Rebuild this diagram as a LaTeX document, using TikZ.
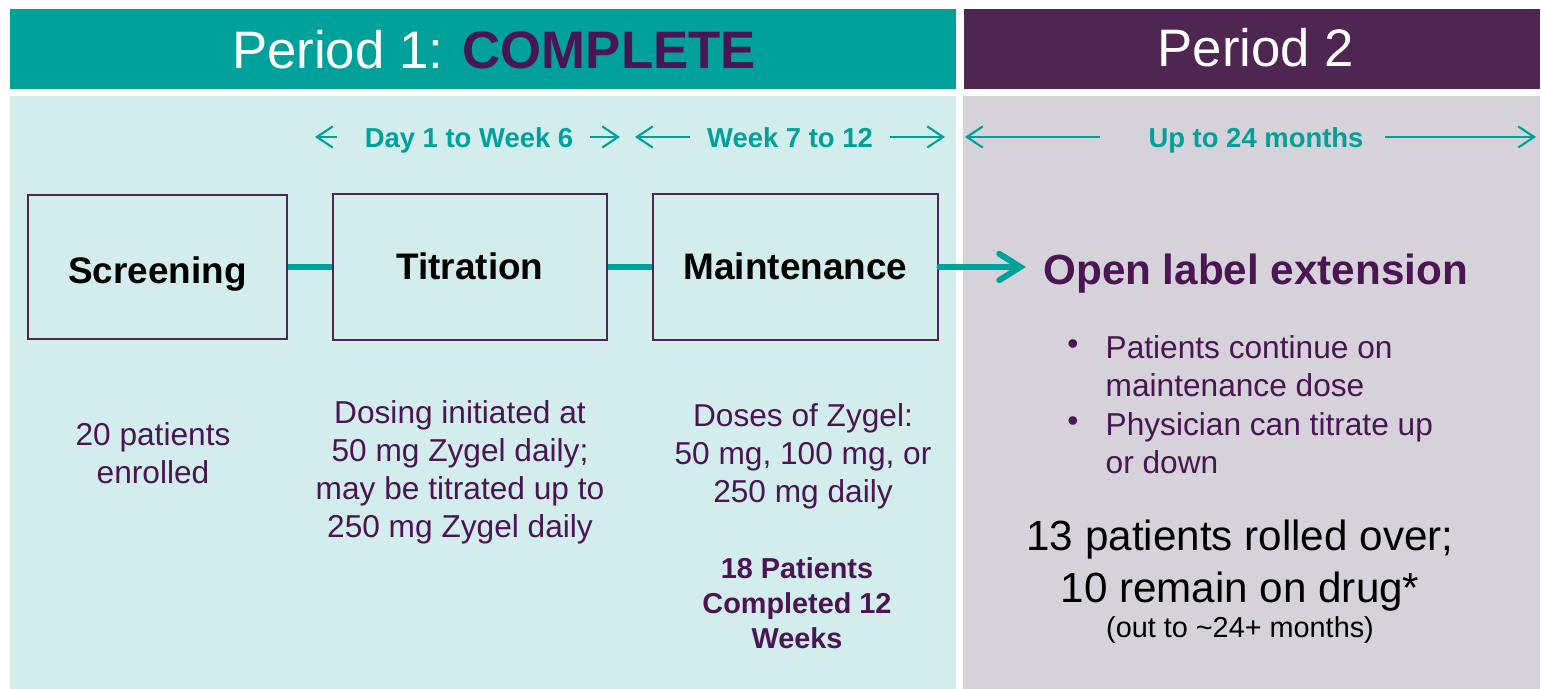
\documentclass[tikz,border=0pt]{standalone}
\usepackage{fontspec}
\setmainfont{Liberation Sans}
\usetikzlibrary{positioning,arrows.meta}
\definecolor{tealc}{HTML}{00A19A}
\definecolor{plum}{HTML}{4F2551}
\definecolor{ink}{HTML}{4A1552}
\definecolor{lightteal}{HTML}{D3EDEC}
\definecolor{lightgray}{HTML}{D5D3D9}
\begin{document}
\begin{tikzpicture}[x=0.01cm,y=-0.01cm]
\tikzstyle{stage}=[rectangle, draw=plum, line width=0.8pt, inner sep=0pt]
\tikzstyle{stagetext}=[font=\fontsize{10.5}{12}\selectfont\bfseries, anchor=base]
\tikzstyle{connect}=[line width=1.5pt, draw=tealc]
\tikzstyle{spanarrow}=[line width=0.6pt, draw=tealc, -{Straight Barb[length=4.5pt,width=6pt]}]
\tikzstyle{spantext}=[font=\fontsize{7.8}{9.4}\selectfont\bfseries, text=tealc, anchor=base]
\tikzstyle{body}=[font=\fontsize{9}{10.8}\selectfont, text=ink, align=center]
\tikzstyle{bodyleft}=[font=\fontsize{9}{10.8}\selectfont, text=ink, align=left, anchor=west, inner sep=0pt]
\useasboundingbox (0,0) rectangle (1541,689);
\fill[white] (0,0) rectangle (1541,689);
% headers and panels
\fill[tealc] (10,9) rectangle (956,89);
\fill[plum] (964,9) rectangle (1540,89);
\fill[lightteal] (10,96) rectangle (956,689);
\fill[lightgray] (963,96) rectangle (1540,689);
\node (head_1) at (494,50) {\fontsize{15}{18}\selectfont\color{white}Period 1: \textcolor{ink}{\bfseries COMPLETE}};
\node (head_2) at (1256,48) {\fontsize{15}{18}\selectfont\color{white}Period 2};
% time spans
\node[spantext] (span_1) at (469,148) {Day 1 to Week 6};
\node[spantext] (span_2) at (790,148) {Week 7 to 12};
\node[spantext] (span_3) at (1256,148) {Up to 24 months};
\coordinate (s1_l) at (315,137);
\coordinate (s1_r) at (620,137);
\coordinate (s2_l) at (635,137);
\coordinate (s2_r) at (945,137);
\coordinate (s3_l) at (965,137);
\coordinate (s3_r) at (1536,137);
\draw[spanarrow] (337,137) -- (s1_l);
\draw[spanarrow] (590,137) -- (s1_r);
\draw[spanarrow] (690,137) -- (s2_l);
\draw[spanarrow] (890,137) -- (s2_r);
\draw[spanarrow] (1100,137) -- (s3_l);
\draw[spanarrow] (1385,137) -- (s3_r);
% stages
\node[stage, minimum width=2.59cm, minimum height=1.44cm] (screening) at (157.5,267) {};
\node[stage, minimum width=2.74cm, minimum height=1.46cm] (titration) at (470,267) {};
\node[stage, minimum width=2.85cm, minimum height=1.46cm] (maintenance) at (795.5,267) {};
\node[stagetext] (screening_t) at (157.5,284) {Screening};
\node[stagetext] (titration_t) at (470,280) {Titration};
\node[stagetext] (maintenance_t) at (795.5,280) {Maintenance};
\coordinate (ole_tip) at (1026,267);
\path
	(screening) edge [connect] (titration)
	(titration) edge [connect] (maintenance);
\draw[line width=1.7pt, tealc, line cap=round, -{Straight Barb[length=6pt,width=7.5pt,line cap=round]}] (maintenance) -- (ole_tip);
\node[anchor=west, text=ink, font=\fontsize{12}{14}\selectfont\bfseries] (ole) at (1031,274) {Open label extension};
% details
\node[body] (enrolled) at (153,453) {20 patients\\enrolled};
\node[body] (dosing) at (460,472) {Dosing initiated at\\50 mg Zygel daily;\\may be titrated up to\\250 mg Zygel daily};
\node[body] (doses) at (803,456) {Doses of Zygel:\\50 mg, 100 mg, or\\250 mg daily};
\node[text=ink, align=center, font=\fontsize{8.2}{10}\selectfont\bfseries] (completed) at (797,603) {18 Patients\\Completed 12\\Weeks};
\node[text=ink, font=\fontsize{9}{10.8}\selectfont] (bul_1) at (1073,347) {•};
\node[text=ink, font=\fontsize{9}{10.8}\selectfont] (bul_2) at (1073,424) {•};
\node[bodyleft] (item_1) at (1105,366) {Patients continue on\\maintenance dose};
\node[bodyleft] (item_2) at (1105,443) {Physician can titrate up\\or down};
\node[align=center, font=\fontsize{12}{14.8}\selectfont] (rolled) at (1240,566) {13 patients rolled over;\\10 remain on drug*};
\node[font=\fontsize{8.2}{10}\selectfont] (months) at (1240,630) {(out to \textasciitilde 24+ months)};
\end{tikzpicture}
\end{document}
